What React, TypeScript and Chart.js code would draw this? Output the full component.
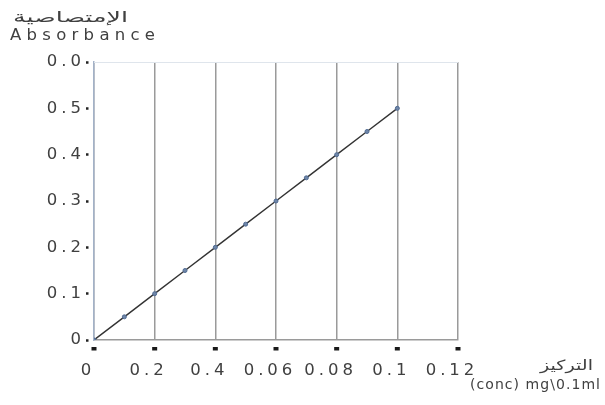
import React, { useEffect, useRef } from "react";
import { Chart, registerables } from "chart.js";

Chart.register(...registerables);

// ---- data ----
const concentrations = [0, 0.01, 0.02, 0.03, 0.04, 0.05, 0.06, 0.07, 0.08, 0.09, 0.1];
const absorbances = [0, 0.05, 0.1, 0.15, 0.2, 0.25, 0.3, 0.35, 0.4, 0.45, 0.5];
const xTickValues = [0, 0.02, 0.04, 0.06, 0.08, 0.1, 0.12];
const xTickLabels = ["0", "0.2", "0.4", "0.06", "0.08", "0.1", "0.12"];
const yTickValues = [0, 0.1, 0.2, 0.3, 0.4, 0.5, 0.6];
const yTickLabels = ["0", "0.1", "0.2", "0.3", "0.4", "0.5", "0.0"];
const yTitleArabic = "الإمتصاصية";
const yTitleEnglish = "Absorbance";
const xTitleArabic = "التركيز";
const xTitleEnglish = "(conc) mg\\0.1ml";

// ---- style ----
const FONT = '"DejaVu Sans", "Liberation Sans", sans-serif';
const TEXT = "#404040";
const TICK_SPACING = "4px";

function drawStretched(ctx: CanvasRenderingContext2D, text: string, x: number, y: number, width: number, size: number) {
  ctx.save();
  ctx.letterSpacing = "0px";
  ctx.font = `${size}px ${FONT}`;
  ctx.textBaseline = "middle";
  ctx.textAlign = "left";
  const w = ctx.measureText(text).width;
  ctx.translate(x, y);
  ctx.scale(width / w, 1);
  ctx.fillStyle = TEXT;
  ctx.fillText(text, 0, 0);
  ctx.restore();
}

function drawSpaced(ctx: CanvasRenderingContext2D, text: string, x: number, y: number, width: number, size: number) {
  ctx.save();
  ctx.letterSpacing = "0px";
  ctx.font = `${size}px ${FONT}`;
  const w = ctx.measureText(text).width;
  const sp = Math.max(0, (width - w) / Math.max(1, text.length - 1));
  ctx.letterSpacing = `${sp}px`;
  ctx.textBaseline = "middle";
  ctx.textAlign = "left";
  ctx.fillStyle = TEXT;
  ctx.fillText(text, x, y);
  ctx.restore();
}

const spacingPlugin = {
  id: "spacing",
  beforeLayout(chart: any) {
    chart.ctx.letterSpacing = TICK_SPACING;
  },
  beforeDraw(chart: any) {
    chart.ctx.letterSpacing = TICK_SPACING;
  },
};

const titlesPlugin = {
  id: "titles",
  afterDraw(chart: any) {
    const ctx: CanvasRenderingContext2D = chart.ctx;
    const a = chart.chartArea;
    const xs = chart.scales.x;
    ctx.save();
    ctx.strokeStyle = "#dfe5ec";
    ctx.lineWidth = 1;
    ctx.beginPath();
    ctx.moveTo(a.left, a.top + 0.5);
    ctx.lineTo(a.right, a.top + 0.5);
    ctx.stroke();
    // small detached tick marks below the x axis
    ctx.fillStyle = "#1a1a1a";
    xTickValues.forEach((v) => {
      const px = xs.getPixelForValue(v);
      ctx.fillRect(px - 2.5, a.bottom + 7, 5, 3.5);
    });
    ctx.restore();
    drawStretched(ctx, yTitleArabic, 13, 18, 115, 15);
    drawSpaced(ctx, yTitleEnglish, 10, 36, 145, 16.5);
    drawStretched(ctx, xTitleArabic, 540, 366, 53, 14);
    drawSpaced(ctx, xTitleEnglish, 470, 385, 130, 14);
  },
};

export default function App() {
  const ref = useRef<HTMLCanvasElement>(null);
  useEffect(() => {
    if (!ref.current) return;
    const chart = new Chart(ref.current, {
      type: "scatter",
      data: {
        datasets: [
          {
            data: concentrations.map((c, i) => ({ x: c, y: absorbances[i] })),
            showLine: true,
            borderColor: "#333333",
            borderWidth: 1.4,
            pointRadius: 2,
            pointBackgroundColor: "#6f86a8",
            pointBorderColor: "#4f6a92",
            pointBorderWidth: 1,
          },
        ],
      },
      options: {
        animation: false,
        responsive: false,
        events: [],
        layout: { padding: { left: 0, top: 62, right: 147, bottom: 0 } },
        plugins: { legend: { display: false }, tooltip: { enabled: false } },
        scales: {
          x: {
            type: "linear",
            min: 0,
            max: 0.12,
            afterBuildTicks: (s: any) => {
              s.ticks = xTickValues.map((v) => ({ value: v }));
            },
            afterFit: (s: any) => {
              s.height = 65;
            },
            grid: {
              color: "#9a9a9a",
              lineWidth: 1.5,
              drawTicks: true,
              tickLength: 10,
              tickColor: "rgba(0,0,0,0)",
            },
            border: { color: "#9a9a9a", width: 1.5 },
            ticks: {
              color: TEXT,
              font: { family: FONT, size: 16.5 },
              padding: 11,
              labelOffset: -6,
              maxRotation: 0,
              autoSkip: false,
              callback: (_v: any, i: number) => xTickLabels[i],
            },
          },
          y: {
            type: "linear",
            min: 0,
            max: 0.6,
            afterBuildTicks: (s: any) => {
              s.ticks = yTickValues.map((v) => ({ value: v }));
            },
            afterFit: (s: any) => {
              s.width = 94;
            },
            grid: {
              drawOnChartArea: false,
              drawTicks: true,
              tickLength: 8,
              tickColor: "#222",
              tickWidth: 2.5,
              tickBorderDash: [2.5, 100],
            },
            border: { color: "#a3b2c8", width: 1.5 },
            ticks: {
              color: TEXT,
              font: { family: FONT, size: 16.5 },
              padding: 1,
              autoSkip: false,
              callback: (_v: any, i: number) => yTickLabels[i],
            },
          },
        },
      },
      plugins: [spacingPlugin, titlesPlugin],
    } as any);
    return () => chart.destroy();
  }, []);
  return (
    <div style={{ position: "fixed", left: 0, top: 0, width: 605, height: 405, background: "#fff" }}>
      <canvas ref={ref} width={605} height={405} />
    </div>
  );
}
